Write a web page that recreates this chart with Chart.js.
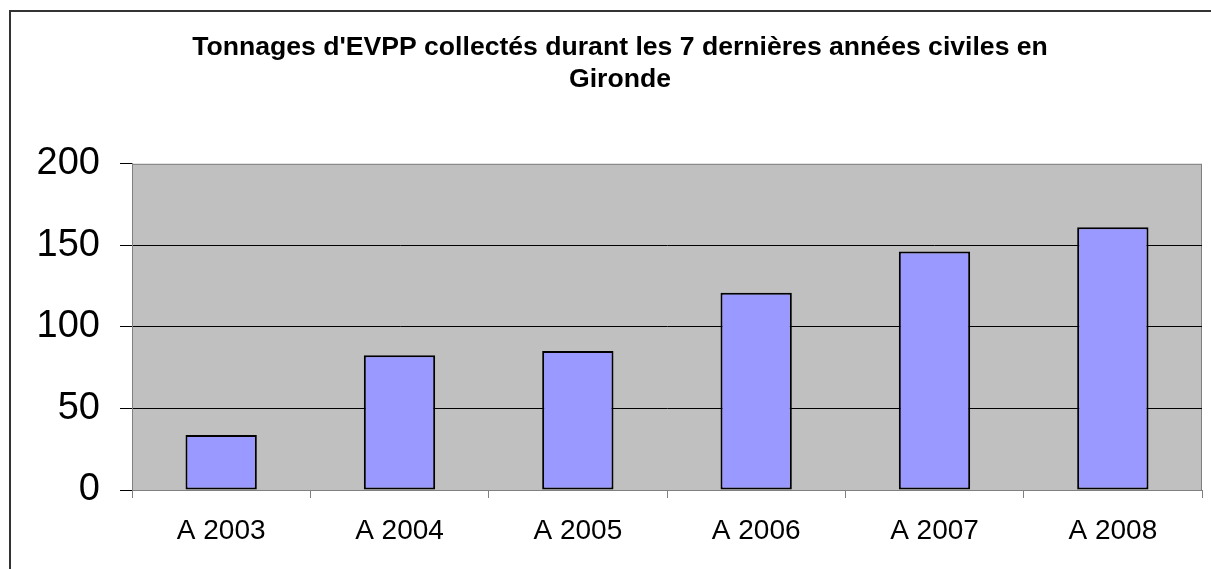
<!DOCTYPE html>
<html>
<head>
<meta charset="utf-8">
<script src="https://cdn.jsdelivr.net/npm/chart.js@4/dist/chart.umd.min.js"></script>
<style>
  body { margin: 0; background: #fff; }
  #wrap { width: 1211px; height: 569px; }
</style>
</head>
<body>
<div id="wrap"><canvas id="chart" width="1211" height="569"></canvas></div>
<script>
// data
const categories = ['A 2003', 'A 2004', 'A 2005', 'A 2006', 'A 2007', 'A 2008'];
const tonnages = [33.7, 82.6, 85.3, 120.9, 146.2, 161.1];
const yTicks = [0, 50, 100, 150, 200];
const titleLines = ["Tonnages d'EVPP collectés durant les 7 dernières années civiles en", 'Gironde'];

const FONT = '"Liberation Sans", Arial, sans-serif';

// grey plot area + outer frame, like the old Excel chart
const backdrop = {
    id: 'backdrop',
    beforeDraw(chart) {
        const ctx = chart.ctx;
        const a = chart.chartArea;
        ctx.save();
        ctx.fillStyle = '#fff';
        ctx.fillRect(0, 0, chart.width, chart.height);
        ctx.strokeStyle = '#333';
        ctx.lineWidth = 2;
        ctx.beginPath();
        ctx.moveTo(10, chart.height + 5);
        ctx.lineTo(10, 11);
        ctx.lineTo(chart.width + 5, 11);
        ctx.stroke();
        ctx.fillStyle = '#c0c0c0';
        ctx.fillRect(a.left, a.top, a.right - a.left, a.bottom - a.top);
        ctx.strokeStyle = '#808080';
        ctx.lineWidth = 1;
        ctx.strokeRect(a.left + 0.5, a.top + 0.5, a.right - a.left - 1, a.bottom - a.top);
        ctx.restore();
    }
};

window.onload = () => {
    const context = document.getElementById('chart').getContext('2d');
    new Chart(context, {
        type: 'bar',
        data: {
            labels: categories,
            datasets: [{
                data: tonnages,
                backgroundColor: '#9999ff',
                borderColor: '#000',
                borderWidth: 2,
                borderSkipped: false,
                barPercentage: 0.4,
                categoryPercentage: 1
            }]
        },
        options: {
            responsive: false,
            animation: false,
            layout: { padding: { left: 38, right: 9, top: 0, bottom: 0 } },
            plugins: {
                legend: { display: false },
                tooltip: { enabled: false },
                title: {
                    display: true,
                    text: titleLines,
                    color: '#000',
                    font: { family: FONT, size: 26.6, weight: 'bold', lineHeight: 1.2 },
                    padding: { top: 32, bottom: 68 }
                }
            },
            scales: {
                x: {
                    afterFit: (s) => { s.height = 79; },
                    grid: {
                        drawOnChartArea: false,
                        tickLength: 8,
                        tickColor: '#808080'
                    },
                    border: { color: '#808080', width: 1 },
                    ticks: {
                        color: '#000',
                        padding: 16,
                        font: { family: FONT, size: 28 }
                    }
                },
                y: {
                    min: yTicks[0],
                    max: yTicks[yTicks.length - 1],
                    afterFit: (s) => { s.width = 94; },
                    afterBuildTicks: (s) => { s.ticks = yTicks.map(v => ({ value: v })); },
                    grid: {
                        color: (c) => (c.tick && c.tick.value > 0 && c.tick.value < 200) ? '#000' : 'rgba(0,0,0,0)',
                        tickLength: 12,
                        tickColor: '#000'
                    },
                    border: { color: '#808080', width: 1 },
                    ticks: {
                        color: '#000',
                        padding: 20,
                        font: { family: FONT, size: 38 }
                    }
                }
            }
        },
        plugins: [backdrop]
    });
};
</script>
</body>
</html>
